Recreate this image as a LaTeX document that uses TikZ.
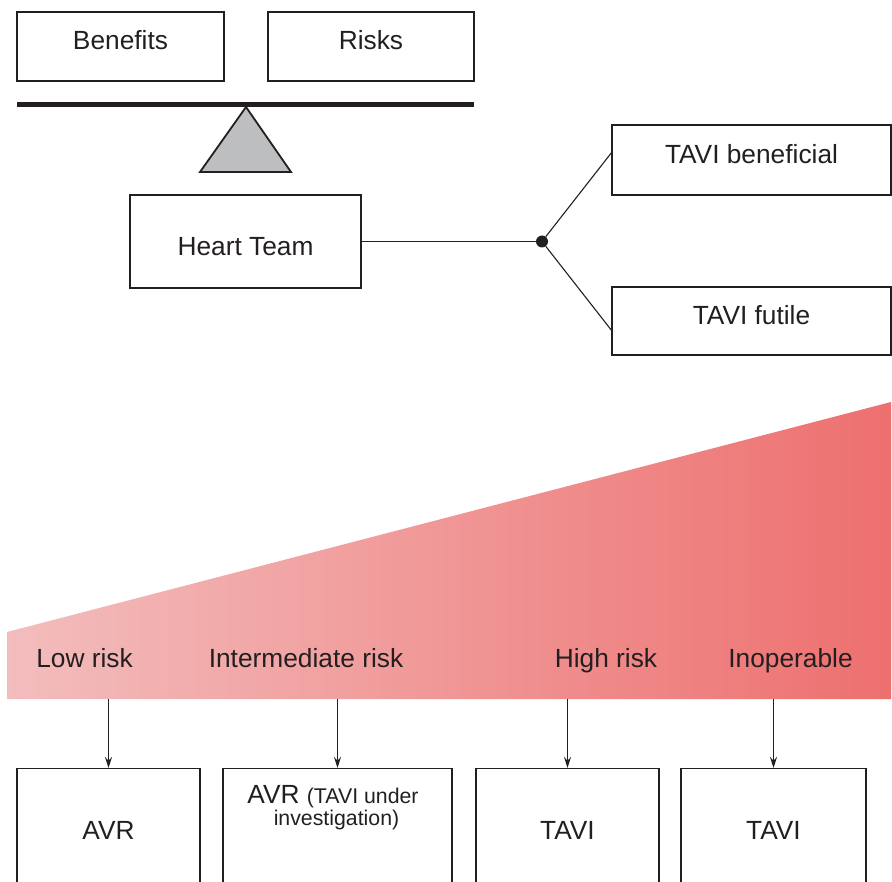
\documentclass[tikz,border=0pt]{standalone}
\usepackage{fontspec}
\setmainfont{Liberation Sans}
\usetikzlibrary{arrows.meta}
\definecolor{txt}{RGB}{35,31,32}
\definecolor{tri}{RGB}{189,190,192}
\definecolor{wl}{RGB}{243,189,189}
\definecolor{wr}{RGB}{237,112,111}
\tikzset{
  big/.style={font=\fontsize{26.3}{30}\selectfont, text=txt},
  small/.style={font=\fontsize{21.3}{24}\selectfont, text=txt},
  box/.style={draw=txt, line width=1.8pt, inner sep=0pt, big},
  lowbox/.style={draw=txt, line width=1.2pt, inner sep=0pt, big, minimum width=183pt, minimum height=124pt, anchor=north, text height=28pt, text depth=10pt},
  thin/.style={draw=txt, line width=1.1pt},
  arr/.style={thin, -{Stealth[length=11pt,width=7pt]}}
}
\begin{document}
\begin{tikzpicture}[x=1pt,y=-1pt]
\path[use as bounding box] (0,0) rectangle (892,882);
\clip (0,0) rectangle (892,882);
% balance
\node[box, minimum width=207pt, minimum height=69pt, text height=22.5pt, text depth=15.5pt] (ben) at (120.5,46.5) {Benefits};
\node[box, minimum width=206pt, minimum height=69pt, text height=22.5pt, text depth=15.5pt] (risk) at (371,46.5) {Risks};
\draw[txt, line width=5pt] (17,104.8) -- (474,104.8);
\draw[draw=txt, fill=tri, line width=1.8pt, line join=miter] (246,107) -- (200,172) -- (291,172) -- cycle;
% heart team
\node[box, minimum width=231pt, minimum height=93pt, text height=33.5pt, text depth=4.5pt] (ht) at (245.5,241.5) {Heart Team};
\node[circle, fill=txt, inner sep=0pt, minimum size=12pt] (dot) at (542,241.5) {};
\node[box, minimum width=279pt, minimum height=70pt, text height=23pt, text depth=15pt] (tb) at (751.5,160) {TAVI beneficial};
\node[box, minimum width=279pt, minimum height=68pt, text height=23pt, text depth=15pt] (tf) at (751.5,321) {TAVI futile};
\coordinate (tbin) at (612,152);
\coordinate (tfin) at (612,331);
\draw[thin] (ht.east) -- (dot);
\draw[thin] (dot) -- (tbin);
\draw[thin] (dot) -- (tfin);
% wedge
\shade[left color=wl, right color=wr] (7,632) -- (891,402) -- (891,699) -- (7,699) -- cycle;
\node[big, anchor=base, inner sep=0pt] (lr) at (84.5,667) {Low risk};
\node[big, anchor=base, inner sep=0pt] (ir) at (306,667) {Intermediate risk};
\node[big, anchor=base, inner sep=0pt] (hr) at (606,667) {High risk};
\node[big, anchor=base, inner sep=0pt] (io) at (790.5,667) {Inoperable};
% bottom boxes
\node[lowbox] (b1) at (108.5,768) {AVR};
\node[lowbox, minimum width=229pt] (b2) at (337.5,768) {};
\node[big, anchor=base, inner sep=0pt] (b2a) at (333,803) {AVR {\fontsize{21.3}{24}\selectfont(TAVI under}};
\node[small, anchor=base, inner sep=0pt] (b2b) at (336.5,825) {investigation)};
\node[lowbox] (b3) at (567.5,768) {TAVI};
\node[lowbox, minimum width=185pt] (b4) at (773.5,768) {TAVI};
\coordinate (s1) at (108.5,699);
\coordinate (s2) at (337.5,699);
\coordinate (s3) at (567.5,699);
\coordinate (s4) at (773.5,699);
\draw[arr] (s1) -- (b1.north);
\draw[arr] (s2) -- (b2.north);
\draw[arr] (s3) -- (b3.north);
\draw[arr] (s4) -- (b4.north);
\end{tikzpicture}
\end{document}
